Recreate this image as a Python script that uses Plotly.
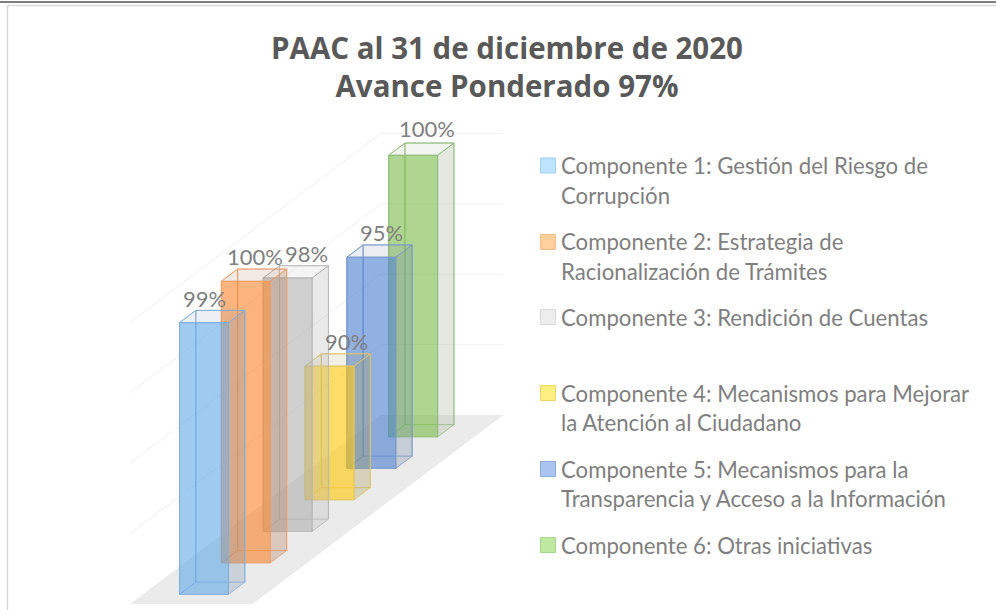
import plotly.graph_objects as go

# ---- data ----
COMPONENTES = [
    "Componente 1: Gestión del Riesgo de<br>Corrupción",
    "Componente 2: Estrategia de<br>Racionalización de Trámites",
    "Componente 3: Rendición de Cuentas",
    "Componente 4: Mecanismos para Mejorar<br>la Atención al Ciudadano",
    "Componente 5: Mecanismos para la<br>Transparencia y Acceso a la Información",
    "Componente 6: Otras iniciativas",
]
AVANCE = [99.3, 100, 98, 89.5, 95, 100]
ETIQUETAS = ["99%", "100%", "98%", "90%", "95%", "100%"]
TITULO = "PAAC al 31 de diciembre de 2020<br>Avance Ponderado 97%"
GRID_VALUES = [85, 90, 95, 100]

# ---- styles ----
FRONT = [(97,168,232),(250,130,42),(175,175,175),(255,198,0),(73,125,208),(120,187,70)]
SIDE = [(125,149,175),(178,115,82),(182,182,182),(165,149,72),(115,135,168),(168,178,155)]
EDGE = ["#7FAEDC","#EBA06C","#B8B8B8","#DFC664","#7C9ACC","#90BE7C"]
SW_FILL = ["#BDE3FF","#FFCF9E","#EDEDED","#FFEF80","#A9C4F0","#BFE8A0"]
SW_LINE = ["#A0D0F0","#F5BC85","#D9D9D9","#E8D860","#8FAEE0","#A8D68E"]
TEXT = "#7F7F7F"
FONT = "Lato"

W, H = 996, 610
PX_X, PX_Y = 49.0, 14.08          # px per bar width, px per percentage point
X0, Y0 = 130.0, 604.0             # pixel of floor's front-left corner
DX, DY = 41.83 / PX_X, 31.5 / PX_Y  # oblique shift per category of depth
BASE = 80
BAR_L, BAR_R = 0.75, 1.75
FLOOR_R = 2.5
D0, D1 = 0.305, 0.695


def pr(w, d, v):
    return w + d * DX, v + d * DY


def poly(pts, fill=None, line=None, lw=1.0):
    xs, ys = zip(*[pr(*p) for p in pts + pts[:1]])
    return go.Scatter(
        x=xs, y=ys, mode="lines", hoverinfo="skip", showlegend=False,
        fill="toself" if fill else None, fillcolor=fill,
        line=dict(color=line or "rgba(0,0,0,0)", width=lw if line else 0),
    )


fig = go.Figure()
n = len(AVANCE)
# floor
fig.add_trace(poly([(0, 0, BASE), (FLOOR_R, 0, BASE), (FLOOR_R, n, BASE), (0, n, BASE)], fill="#EBEBEB"))
# wall gridlines
for g in GRID_VALUES:
    xs, ys = zip(*[pr(0, 0, g), pr(0, n, g), pr(FLOOR_R, n, g)])
    fig.add_trace(go.Scatter(x=xs, y=ys, mode="lines", hoverinfo="skip", showlegend=False,
                             line=dict(color="#F1F1F1", width=1)))
# bars, back to front
for i in reversed(range(n)):
    v = AVANCE[i]
    a, b = i + D0, i + D1
    c, s, e = FRONT[i], SIDE[i], EDGE[i]
    front_fill = f"rgba({c[0]},{c[1]},{c[2]},0.6)"
    side_fill = f"rgba({s[0]},{s[1]},{s[2]},0.3)"
    top_fill = f"rgba({s[0]},{s[1]},{s[2]},0.15)"
    # hidden edges
    fig.add_trace(poly([(BAR_L, b, BASE), (BAR_R, b, BASE), (BAR_R, b, v), (BAR_L, b, v)], line=e, lw=0.8))
    fig.add_trace(poly([(BAR_L, a, BASE), (BAR_L, b, BASE), (BAR_L, b, v), (BAR_L, a, v)], line=e, lw=0.8))
    # visible faces
    fig.add_trace(poly([(BAR_R, a, BASE), (BAR_R, b, BASE), (BAR_R, b, v), (BAR_R, a, v)], fill=side_fill, line=e, lw=0.8))
    fig.add_trace(poly([(BAR_L, a, v), (BAR_R, a, v), (BAR_R, b, v), (BAR_L, b, v)], fill=top_fill, line=e, lw=0.8))
    fig.add_trace(poly([(BAR_L, a, BASE), (BAR_R, a, BASE), (BAR_R, a, v), (BAR_L, a, v)], fill=front_fill, line=e, lw=1.0))

# data labels: offset in px from the front-left top corner of each bar
LABEL_DX = [25, 34, 43.5, 41, 35, 38]
LABEL_DY = [24, 25, 24, 25, 25, 27]
annotations = []
for i, (v, t) in enumerate(zip(AVANCE, ETIQUETAS)):
    x, y = pr(BAR_L, i + D0, v)
    annotations.append(dict(x=x, y=y, xref="x", yref="y", text=t, showarrow=False,
                            xshift=LABEL_DX[i], yshift=LABEL_DY[i], xanchor="center", yanchor="middle",
                            font=dict(family=FONT, size=22, color=TEXT)))

# legend (drawn by hand, spacing is irregular in the original)
LEG_Y = [165.5, 242, 317, 393, 469, 545]
LINE_H = 29.5
shapes = []
for i, (name, y) in enumerate(zip(COMPONENTES, LEG_Y)):
    shapes.append(dict(type="rect", xref="paper", yref="paper",
                       x0=540.5 / W, x1=555.5 / W, y0=1 - (y + 7.5) / H, y1=1 - (y - 7.5) / H,
                       fillcolor=SW_FILL[i], line=dict(color=SW_LINE[i], width=1)))
    for j, line in enumerate(name.split("<br>")):
        annotations.append(dict(x=558.5 / W, y=1 - (y + j * LINE_H) / H, xref="paper", yref="paper",
                                text=line, showarrow=False, xanchor="left", yanchor="middle",
                                font=dict(family=FONT, size=22.2, color=TEXT)))

# frame
shapes += [
    dict(type="line", xref="paper", yref="paper", x0=0, x1=1, y0=1 - 2 / H, y1=1 - 2 / H,
         line=dict(color="#7F7F7F", width=2)),
    dict(type="line", xref="paper", yref="paper", x0=7.5 / W, x1=1, y0=1 - 5.5 / H, y1=1 - 5.5 / H,
         line=dict(color="#D9D9D9", width=1.5)),
    dict(type="line", xref="paper", yref="paper", x0=7.5 / W, x1=7.5 / W, y0=0, y1=1 - 5.5 / H,
         line=dict(color="#D9D9D9", width=1.5)),
]

fig.update_layout(
    width=W, height=H, margin=dict(l=0, r=0, t=0, b=0), autosize=False,
    paper_bgcolor="white", plot_bgcolor="white", showlegend=False,
    title=dict(text=f"<b>{TITULO}</b>", x=507 / W, xanchor="center", y=1 - 58.5 / H, yanchor="middle",
               font=dict(family="Open Sans", size=29.5, color="#595959")),
    xaxis=dict(range=[-X0 / PX_X, (W - X0) / PX_X], visible=False, fixedrange=True),
    yaxis=dict(range=[BASE - (H - Y0) / PX_Y, BASE + Y0 / PX_Y], visible=False, fixedrange=True),
    shapes=shapes, annotations=annotations,
)
fig.write_html("out.html", config={"displayModeBar": False},
               post_script="document.body.style.margin='0';document.body.style.overflow='hidden';")
